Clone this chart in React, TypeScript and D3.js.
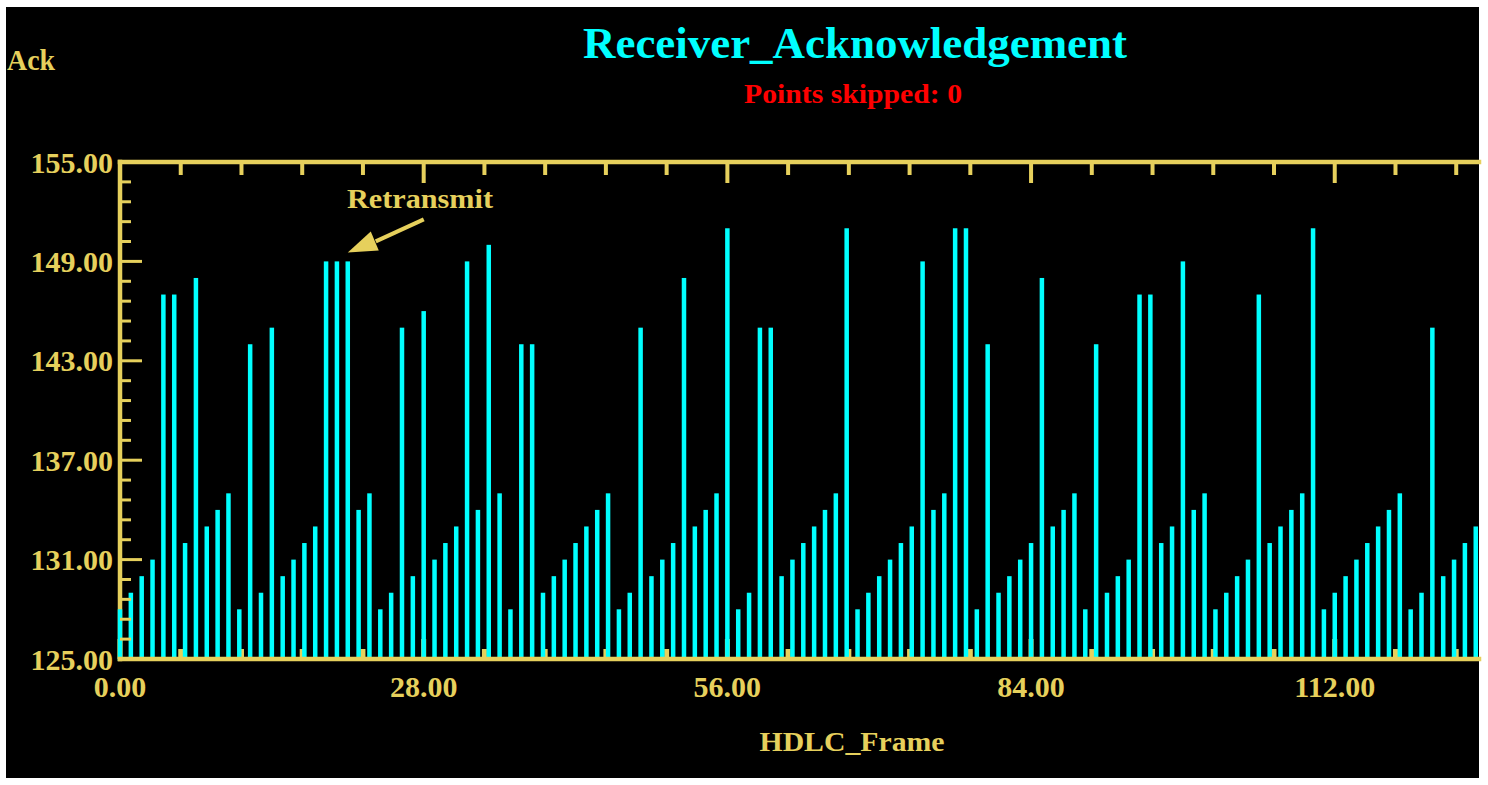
import React, { useRef, useEffect } from "react";
import * as d3 from "d3";

// ack number received for each HDLC frame (index = frame number)
const ackValues = [
  128, 129, 130, 131, 147, 147, 132, 148, 133, 134, 135, 128, 144, 129, 145, 130, 131, 132, 133, 149, 149, 149,
  134, 135, 128, 129, 145, 130, 146, 131, 132, 133, 149, 134, 150, 135, 128, 144, 144, 129, 130, 131, 132,
  133, 134, 135, 128, 129, 145, 130, 131, 132, 148, 133, 134, 135, 151, 128, 129, 145, 145, 130, 131, 132,
  133, 134, 135, 151, 128, 129, 130, 131, 132, 133, 149, 134, 135, 151, 151, 128, 144, 129, 130, 131, 132,
  148, 133, 134, 135, 128, 144, 129, 130, 131, 147, 147, 132, 133, 149, 134, 135, 128, 129, 130, 131, 147,
  132, 133, 134, 135, 151, 128, 129, 130, 131, 132, 133, 134, 135, 128, 129, 145, 130, 131, 132, 133,
];
const xTicks = [0, 28, 56, 84, 112];
const yTicks = [125, 131, 137, 143, 149, 155];
const title = "Receiver_Acknowledgement";
const subTitle = "Points skipped: 0";
const xTitle = "HDLC_Frame";
const yTitle = "Ack";
const note = "Retransmit";

function AckChart() {
  const svgRef = useRef<SVGSVGElement>(null);

  useEffect(() => {
    const svg = d3.select(svgRef.current);
    svg.selectAll("*").remove();

    const yellow = "#e6d05c";
    const font = "'Liberation Serif', 'DejaVu Serif', serif";
    const left = 120, right = 1479, top = 162, bottom = 659;

    const x = d3.scaleLinear().domain([0, 125.3]).range([left, right]);
    const y = d3.scaleLinear().domain([125, 155]).range([bottom, top]);
    const fmt = d3.format(".2f");

    svg.append("rect").attr("width", 1488).attr("height", 785).attr("fill", "#fff");
    svg.append("rect").attr("x", 6).attr("y", 7).attr("width", 1473).attr("height", 771).attr("fill", "#000");

    svg.append("clipPath").attr("id", "plotclip")
      .append("rect").attr("x", left - 4).attr("y", top).attr("width", right - left + 4).attr("height", bottom - top + 4);

    const minorX = d3.range(0, 125.3, 5.6);
    const isMajorX = (t) => xTicks.some((m) => Math.abs(m - t) < 0.01);

    // left axis line and bottom ticks sit under the bars
    svg.append("line").attr("x1", left).attr("x2", left).attr("y1", top).attr("y2", bottom)
      .attr("stroke", yellow).attr("stroke-width", 4.5).attr("stroke-linecap", "square");

    svg.append("g").selectAll("line").data(minorX).enter().append("line")
      .attr("x1", (d) => x(d)).attr("x2", (d) => x(d))
      .attr("y1", bottom).attr("y2", (d) => bottom - (isMajorX(d) ? 20 : 10))
      .attr("stroke", yellow).attr("stroke-width", 5);

    svg.append("g").attr("clip-path", "url(#plotclip)")
      .selectAll("rect").data(ackValues).enter().append("rect")
      .attr("x", (d, i) => x(i) - 2.25)
      .attr("width", 4.5)
      .attr("y", (d) => y(d))
      .attr("height", (d) => y(125) - y(d) + 2)
      .attr("fill", "#00ffff");

    // frame
    const axes = svg.append("g").attr("stroke", yellow).attr("stroke-width", 4.5).attr("stroke-linecap", "square");
    axes.append("line").attr("x1", left).attr("x2", right).attr("y1", top).attr("y2", top);
    axes.append("line").attr("x1", left).attr("x2", right).attr("y1", bottom).attr("y2", bottom);

    svg.append("g").selectAll("line").data(minorX).enter().append("line")
      .attr("x1", (d) => x(d)).attr("x2", (d) => x(d))
      .attr("y1", top).attr("y2", (d) => top + (isMajorX(d) ? 21 : 13))
      .attr("stroke", yellow).attr("stroke-width", 4);

    const minorY = d3.range(0, 26).map((k) => 125 + k * 1.2);
    const isMajorY = (t) => yTicks.some((m) => Math.abs(m - t) < 0.01);
    svg.append("g").selectAll("line").data(minorY).enter().append("line")
      .attr("x1", left).attr("x2", (d) => left + (isMajorY(d) ? 22 : 11))
      .attr("y1", (d) => y(d)).attr("y2", (d) => y(d))
      .attr("stroke", yellow).attr("stroke-width", 3);

    const labels = svg.append("g").attr("font-family", font).attr("font-weight", "bold").attr("fill", yellow);

    labels.selectAll(".ylab").data(yTicks).enter().append("text")
      .attr("x", 113).attr("y", (d) => y(d)).attr("dy", "0.35em")
      .attr("text-anchor", "end").attr("font-size", 30)
      .text((d) => fmt(d));

    labels.selectAll(".xlab").data(xTicks).enter().append("text")
      .attr("x", (d) => x(d)).attr("y", 697)
      .attr("text-anchor", "middle").attr("font-size", 30)
      .text((d) => fmt(d));

    labels.append("text").attr("x", 852).attr("y", 751).attr("text-anchor", "middle")
      .attr("font-size", 28).attr("textLength", 185).attr("lengthAdjust", "spacingAndGlyphs").text(xTitle);

    labels.append("text").attr("x", 7).attr("y", 70)
      .attr("font-size", 30).attr("textLength", 48).attr("lengthAdjust", "spacingAndGlyphs").text(yTitle);

    labels.append("text").attr("x", 347).attr("y", 208)
      .attr("font-size", 27).attr("textLength", 146).attr("lengthAdjust", "spacingAndGlyphs").text(note);

    // arrow to the retransmitted frames
    const tipX = x(21), tipY = y(149) - 9;
    svg.append("line")
      .attr("x1", tipX + 28).attr("y1", tipY - 11).attr("x2", tipX + 76).attr("y2", tipY - 33)
      .attr("stroke", yellow).attr("stroke-width", 4);
    svg.append("polygon")
      .attr("points", [[tipX, tipY], [tipX + 23, tipY - 21], [tipX + 31, tipY - 2]].map((p) => p.join(",")).join(" "))
      .attr("fill", yellow);

    svg.append("text").attr("x", 855).attr("y", 58).attr("text-anchor", "middle")
      .attr("font-family", font).attr("font-weight", "bold").attr("font-size", 44)
      .attr("textLength", 544).attr("lengthAdjust", "spacingAndGlyphs")
      .attr("fill", "#00ffff").text(title);

    svg.append("text").attr("x", 853).attr("y", 103).attr("text-anchor", "middle")
      .attr("font-family", font).attr("font-weight", "bold").attr("font-size", 27)
      .attr("textLength", 218).attr("lengthAdjust", "spacingAndGlyphs")
      .attr("fill", "#ff0000").text(subTitle);

    return () => {
      d3.select(svgRef.current).selectAll("*").remove();
    };
  }, []);

  return <svg ref={svgRef} width={1488} height={785} style={{ display: "block" }} />;
}

export default function App() {
  return (
    <div>
      <style>{`body { margin: 0; }`}</style>
      <AckChart />
    </div>
  );
}
